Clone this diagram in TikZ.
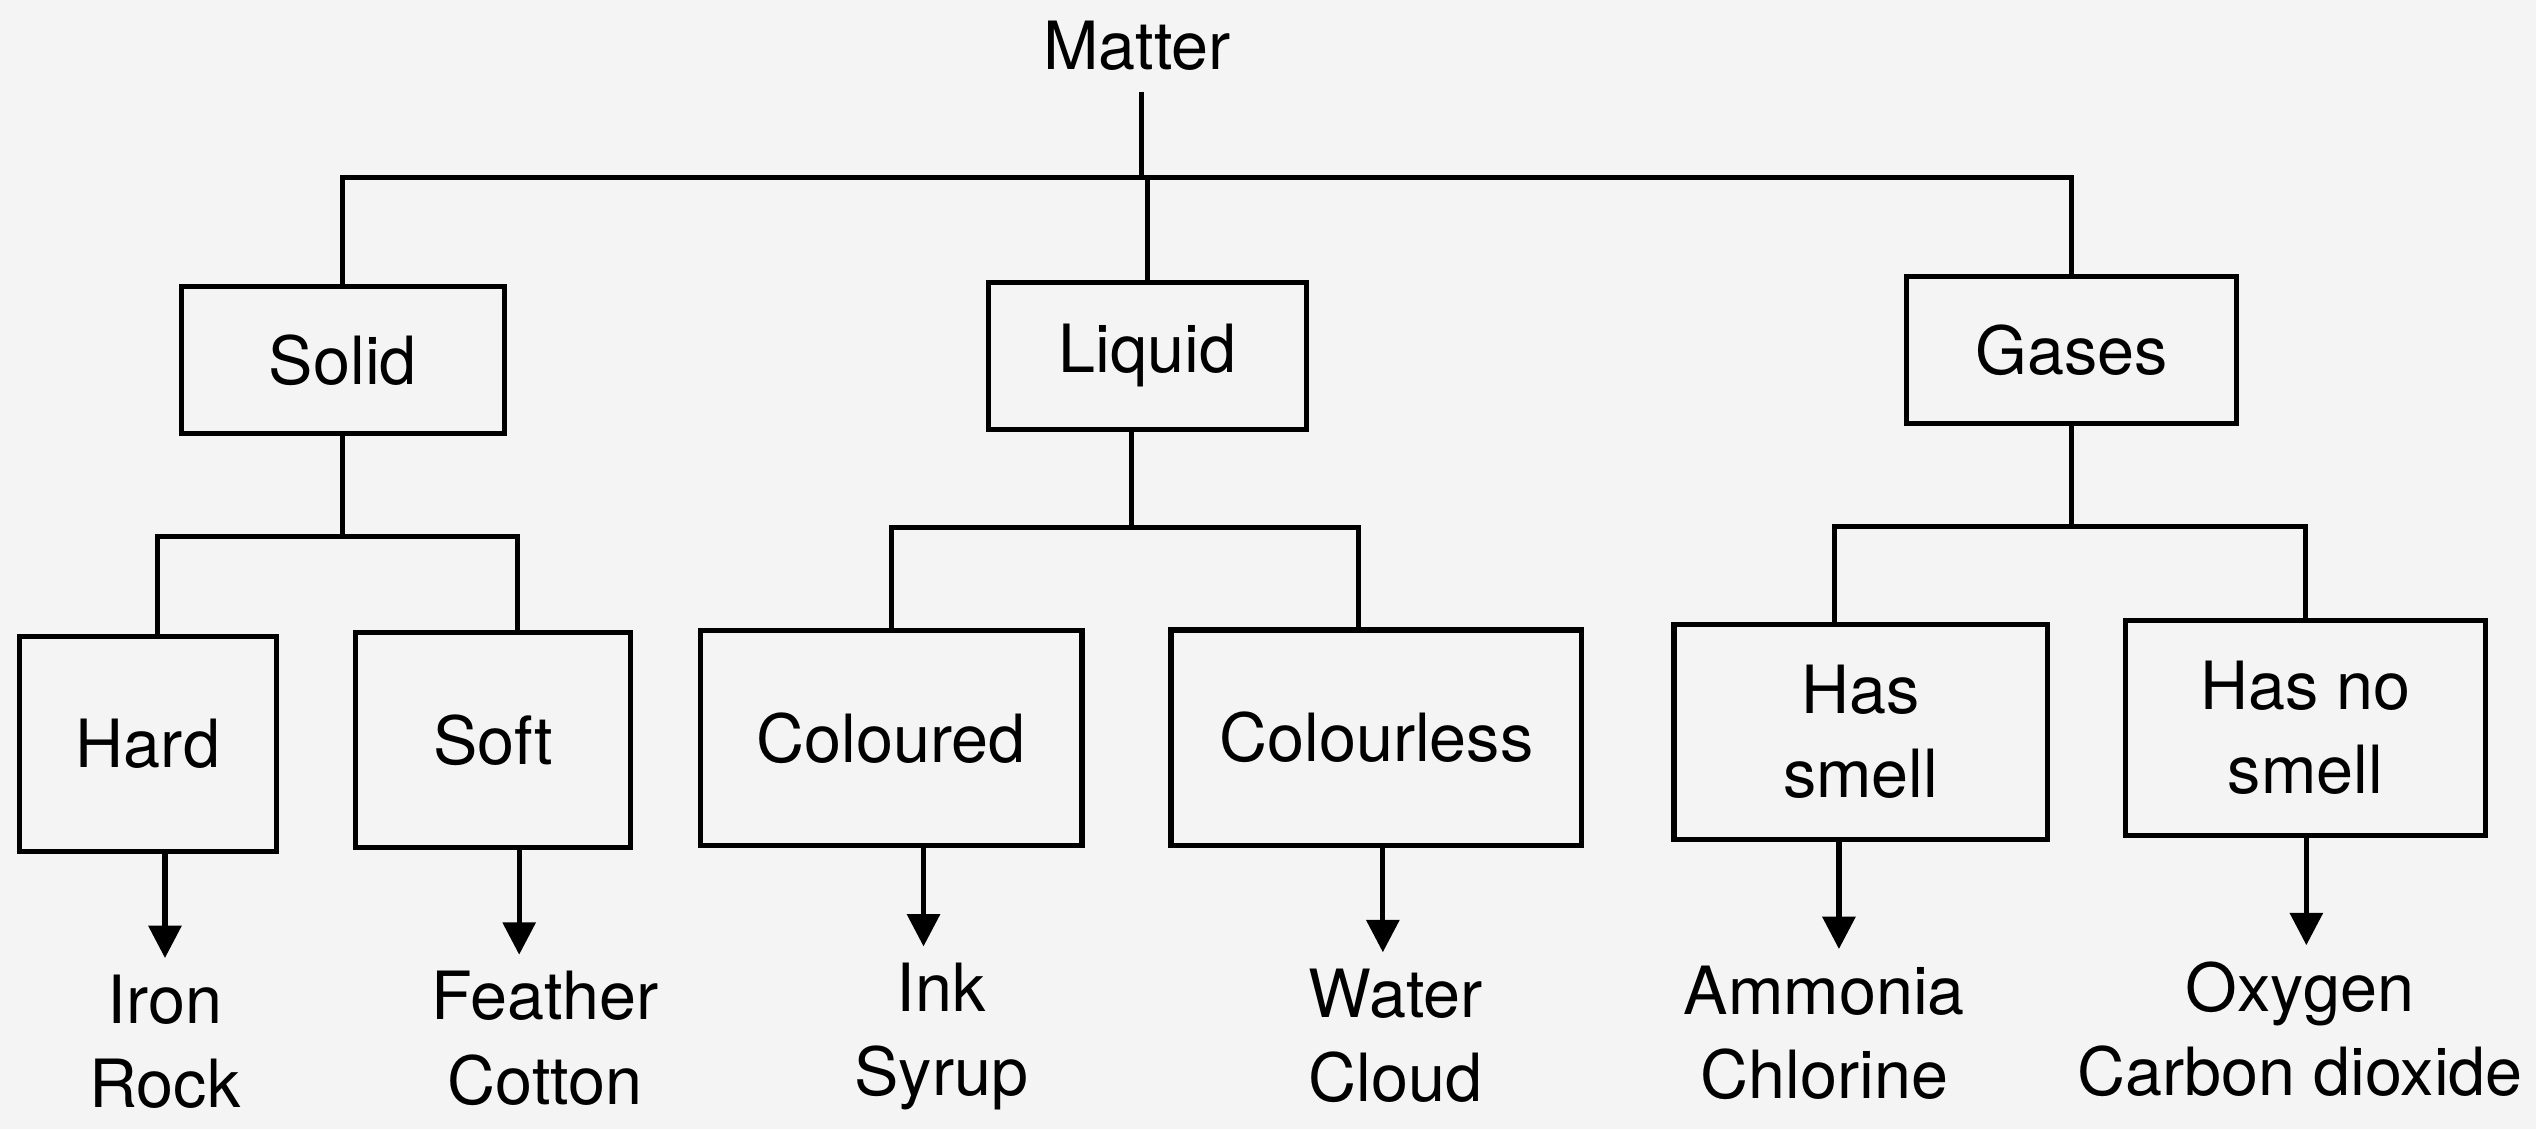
\documentclass[tikz,border=0pt]{standalone}
\usepackage{fontspec}
\setmainfont{TeX Gyre Heros}
\usepackage{xcolor}
\usepackage{tikz}
\usetikzlibrary{arrows.meta,positioning,calc}
\definecolor{paper}{HTML}{F4F4F4}

\begin{document}
\begin{tikzpicture}[
  every node/.style={font=\fontsize{11.7}{14.8}\selectfont},
  line width=0.9pt,
  box/.style={draw, minimum height=0.91cm, inner sep=0pt, align=center},
  sub/.style={draw, minimum height=1.33cm, inner sep=0pt, align=center},
  leaf/.style={align=center, inner sep=2.5pt},
  arrow/.style={-{Triangle[length=2mm, width=2mm]}}
]
  \path[use as bounding box, fill=paper] (0,0) rectangle (15.68,-6.98);

  \node (matter) at (7.03,-0.28) {Matter};
  \node[box, minimum width=2.00cm] (solid) at (2.12,-2.225) {Solid};
  \node[box, minimum width=1.97cm] (liquid) at (7.095,-2.20) {Liquid};
  \node[box, minimum width=2.04cm] (gases) at (12.81,-2.165) {Gases};

  \node[sub, minimum width=1.59cm] (hard) at (0.915,-4.60) {Hard};
  \node[sub, minimum width=1.70cm] (soft) at (3.05,-4.575) {Soft};
  \node[sub, minimum width=2.36cm] (coloured) at (5.51,-4.565) {Coloured};
  \node[sub, minimum width=2.54cm] (colourless) at (8.51,-4.56) {Colourless};
  \node[sub, minimum width=2.31cm] (smell) at (11.505,-4.525) {Has\\smell};
  \node[sub, minimum width=2.23cm] (nosmell) at (14.255,-4.50) {Has no\\smell};

  \node[leaf] (iron) at (1.02,-6.44) {Iron\\Rock};
  \node[leaf] (feather) at (3.37,-6.42) {Feather\\Cotton};
  \node[leaf] (ink) at (5.82,-6.41) {Ink\\Syrup};
  \node[leaf] (water) at (8.63,-6.405) {Water\\Cloud};
  \node[leaf] (ammonia) at (11.28,-6.385) {Ammonia\\Chlorine};
  \node[leaf] (oxygen) at (14.22,-6.365) {Oxygen\\Carbon dioxide};

  \coordinate (mbar) at (7.06,-1.10);
  \draw (matter.south -| mbar) -- (mbar);
  \draw (solid.north) |- (mbar) -| (gases.north);
  \draw (liquid.north) -- (liquid.north |- mbar);

  \draw (solid.south) -- ++(0,-0.62) coordinate (sbar);
  \draw ([xshift=0.6mm]hard.north) |- (sbar) -| ([xshift=1.5mm]soft.north);
  \draw ([xshift=-1mm]liquid.south) -- ++(0,-0.59) coordinate (lbar);
  \draw (coloured.north) |- (lbar) -| ([xshift=-1.1mm]colourless.north);
  \draw (gases.south) -- ++(0,-0.62) coordinate (gbar);
  \draw ([xshift=-1.6mm]smell.north) |- (gbar) -| (nosmell.north);

  \draw[arrow] (iron.north |- hard.south) -- (iron.north);
  \draw[arrow] ([xshift=-1.6mm]feather.north |- soft.south) -- ([xshift=-1.6mm]feather.north);
  \draw[arrow] ([xshift=-1.1mm]ink.north |- coloured.south) -- ([xshift=-1.1mm]ink.north);
  \draw[arrow] ([xshift=-0.8mm]water.north |- colourless.south) -- ([xshift=-0.8mm]water.north);
  \draw[arrow] ([xshift=0.9mm]ammonia.north |- smell.south) -- ([xshift=0.9mm]ammonia.north);
  \draw[arrow] ([xshift=0.4mm]oxygen.north |- nosmell.south) -- ([xshift=0.4mm]oxygen.north);
\end{tikzpicture}
\end{document}
